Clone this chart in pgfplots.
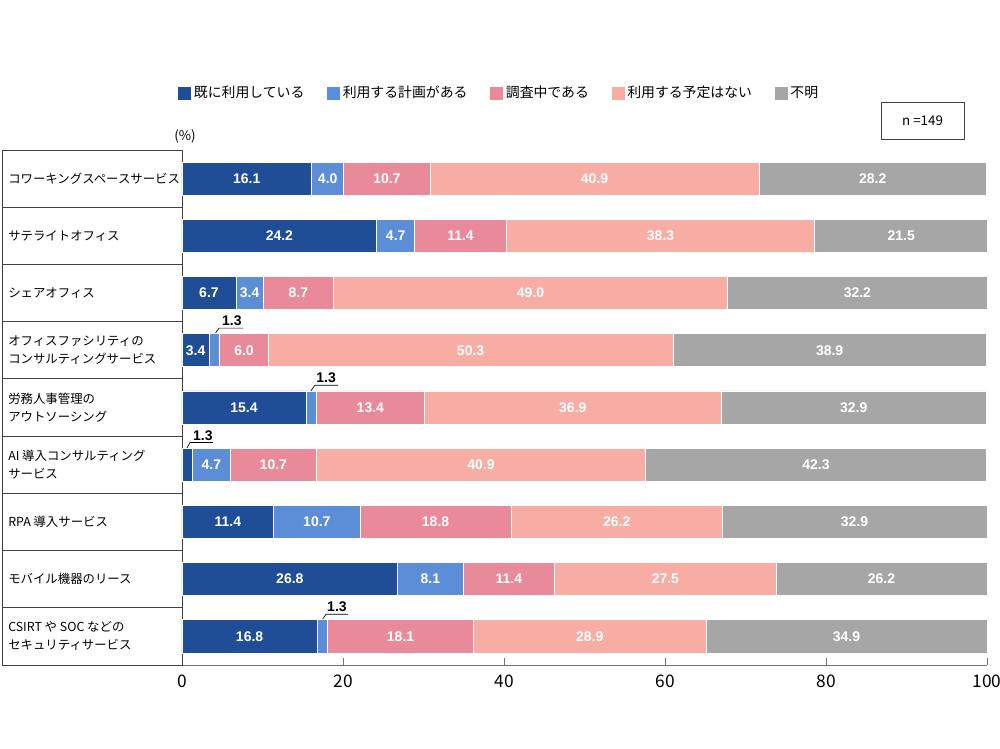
\documentclass[border=0pt]{standalone}
\usepackage{pgfplots}
\usepackage{pgfplotstable}
\pgfplotsset{compat=1.18}
\usepackage{fontspec}
\setmainfont{Noto Sans CJK JP}
\newfontfamily\labfont{Liberation Sans}
\definecolor{c1}{HTML}{1F4E96}
\definecolor{c2}{HTML}{5B8ED6}
\definecolor{c3}{HTML}{E98A9A}
\definecolor{c4}{HTML}{F8ADA4}
\definecolor{c5}{HTML}{A6A6A6}
\definecolor{tline}{HTML}{404040}
% r = row; a..e = values of the five answers; la..le = label drawn inside the bar ({} = drawn outside)
\pgfplotstableread{
r a b c d e la lb lc ld le
1 16.1 4.0 10.7 40.9 28.2 16.1 4.0 10.7 40.9 28.2
2 24.2 4.7 11.4 38.3 21.5 24.2 4.7 11.4 38.3 21.5
3 6.7 3.4 8.7 49.0 32.2 6.7 3.4 8.7 49.0 32.2
4 3.4 1.3 6.0 50.3 38.9 3.4 {} 6.0 50.3 38.9
5 15.4 1.3 13.4 36.9 32.9 15.4 {} 13.4 36.9 32.9
6 1.3 4.7 10.7 40.9 42.3 {} 4.7 10.7 40.9 42.3
7 11.4 10.7 18.8 26.2 32.9 11.4 10.7 18.8 26.2 32.9
8 26.8 8.1 11.4 27.5 26.2 26.8 8.1 11.4 27.5 26.2
9 16.8 1.3 18.1 28.9 34.9 16.8 {} 18.1 28.9 34.9
}\data
% centre of each segment, for its label
\pgfplotstablecreatecol[create col/expr={\thisrow{a}/2}]{ma}\data
\pgfplotstablecreatecol[create col/expr={\thisrow{a}+\thisrow{b}/2}]{mb}\data
\pgfplotstablecreatecol[create col/expr={\thisrow{a}+\thisrow{b}+\thisrow{c}/2}]{mc}\data
\pgfplotstablecreatecol[create col/expr={\thisrow{a}+\thisrow{b}+\thisrow{c}+\thisrow{d}/2}]{md}\data
\pgfplotstablecreatecol[create col/expr={\thisrow{a}+\thisrow{b}+\thisrow{c}+\thisrow{d}+\thisrow{e}/2}]{me}\data
\pgfplotsset{
  frame/.style={at={(136.5pt,63pt)}, anchor=south west,
    scale only axis, width=603.75pt, height=386.25pt,
    xmin=0, xmax=100, ymin=0.5, ymax=9.5, y dir=reverse, clip=false},
}
\begin{document}
\begin{tikzpicture}
\path[use as bounding box] (0,0) rectangle (750pt,561.75pt);
\begin{axis}[
  frame,
  xbar stacked,
  bar width=0.577,
  axis x line*=bottom, axis y line*=left,
  x axis line style={draw=black!55},
  y axis line style={draw=tline},
  xtick={0,20,...,100},
  ytick={1,...,9},
  yticklabels={コワーキングスペースサービス, サテライトオフィス, シェアオフィス, {オフィスファシリティの\\コンサルティングサービス}, {労務人事管理の\\アウトソーシング}, {AI 導入コンサルティング\\サービス}, RPA 導入サービス, モバイル機器のリース, {CSIRT や SOC などの\\セキュリティサービス}},
  tick align=inside,
  major tick length=5.25pt,
  xtick style={draw=black!55},
  ytick style={draw=none},
  /pgf/number format/assume math mode=true,
  xticklabel style={font=\fontsize{13}{15}\selectfont, text=black, yshift=-4pt},
  yticklabel style={font=\fontsize{9.3}{13.5}\selectfont, align=left, anchor=west, inner sep=0pt, xshift=-130.5pt, text=black},
  legend columns=5,
  legend style={draw=none, at={(axis description cs:-0.005,1.1107)}, anchor=west, inner sep=0pt, font=\fontsize{10.4}{12}\selectfont, /tikz/every even column/.append style={column sep=15pt}},
  legend image code/.code={\fill[#1,draw=none] (0pt,-4.875pt) rectangle (9.75pt,4.875pt);},
]
\addplot[fill=c1, draw=white, line width=0.6pt] table[x=a, y=r] {\data};
\addplot[fill=c2, draw=white, line width=0.6pt] table[x=b, y=r] {\data};
\addplot[fill=c3, draw=white, line width=0.6pt] table[x=c, y=r] {\data};
\addplot[fill=c4, draw=white, line width=0.6pt] table[x=d, y=r] {\data};
\addplot[fill=c5, draw=white, line width=0.6pt] table[x=e, y=r] {\data};
\legend{既に利用している, 利用する計画がある, 調査中である, 利用する予定はない, 不明}
% table on the left
\draw[tline, line width=0.6pt] (axis cs:-22.36,0.5) rectangle (axis cs:0,9.5);
\draw[tline, line width=0.6pt] (axis cs:-22.36,1.5) -- (axis cs:0,1.5);
\draw[tline, line width=0.6pt] (axis cs:-22.36,2.5) -- (axis cs:0,2.5);
\draw[tline, line width=0.6pt] (axis cs:-22.36,3.5) -- (axis cs:0,3.5);
\draw[tline, line width=0.6pt] (axis cs:-22.36,4.5) -- (axis cs:0,4.5);
\draw[tline, line width=0.6pt] (axis cs:-22.36,5.5) -- (axis cs:0,5.5);
\draw[tline, line width=0.6pt] (axis cs:-22.36,6.5) -- (axis cs:0,6.5);
\draw[tline, line width=0.6pt] (axis cs:-22.36,7.5) -- (axis cs:0,7.5);
\draw[tline, line width=0.6pt] (axis cs:-22.36,8.5) -- (axis cs:0,8.5);
% small-value callouts
\draw[black, line width=0.5pt] (axis cs:4.1,3.712) -- (axis cs:4.6,3.612) -- (axis cs:7.6,3.612);
\node[anchor=south, inner sep=1.5pt, font=\labfont\bfseries\fontsize{10.5}{12}\selectfont] at (axis cs:6.2,3.612) {1.3};
\draw[black, line width=0.5pt] (axis cs:16.0,4.712) -- (axis cs:16.5,4.612) -- (axis cs:19.4,4.612);
\node[anchor=south, inner sep=1.5pt, font=\labfont\bfseries\fontsize{10.5}{12}\selectfont] at (axis cs:17.9,4.612) {1.3};
\draw[black, line width=0.5pt] (axis cs:0.6,5.712) -- (axis cs:1.0,5.612) -- (axis cs:3.85,5.612);
\node[anchor=south, inner sep=1.5pt, font=\labfont\bfseries\fontsize{10.5}{12}\selectfont] at (axis cs:2.6,5.612) {1.3};
\draw[black, line width=0.5pt] (axis cs:17.4,8.712) -- (axis cs:17.9,8.612) -- (axis cs:20.6,8.612);
\node[anchor=south, inner sep=1.5pt, font=\labfont\bfseries\fontsize{10.5}{12}\selectfont] at (axis cs:19.25,8.612) {1.3};
\end{axis}
% overlay axis carrying the value labels at the centre of each segment
\begin{axis}[
  frame, hide axis,
  point meta=explicit symbolic,
  nodes near coords,
  every node near coord/.append style={font=\labfont\bfseries\fontsize{10.5}{12}\selectfont, text=white, anchor=center, inner sep=0pt},
]
\addplot[draw=none, mark=none] table[x=ma, y=r, meta=la] {\data};
\addplot[draw=none, mark=none] table[x=mb, y=r, meta=lb] {\data};
\addplot[draw=none, mark=none] table[x=mc, y=r, meta=lc] {\data};
\addplot[draw=none, mark=none] table[x=md, y=r, meta=ld] {\data};
\addplot[draw=none, mark=none] table[x=me, y=r, meta=le] {\data};
\end{axis}
\node[font=\fontsize{10}{12}\selectfont] at (138.75pt,459.75pt) {(\%)};
\node[draw=tline, line width=0.6pt, minimum width=62.25pt, minimum height=27.75pt, font=\fontsize{10}{12}\selectfont] at (691.9pt,471.4pt) {n =149};
\end{tikzpicture}
\end{document}
